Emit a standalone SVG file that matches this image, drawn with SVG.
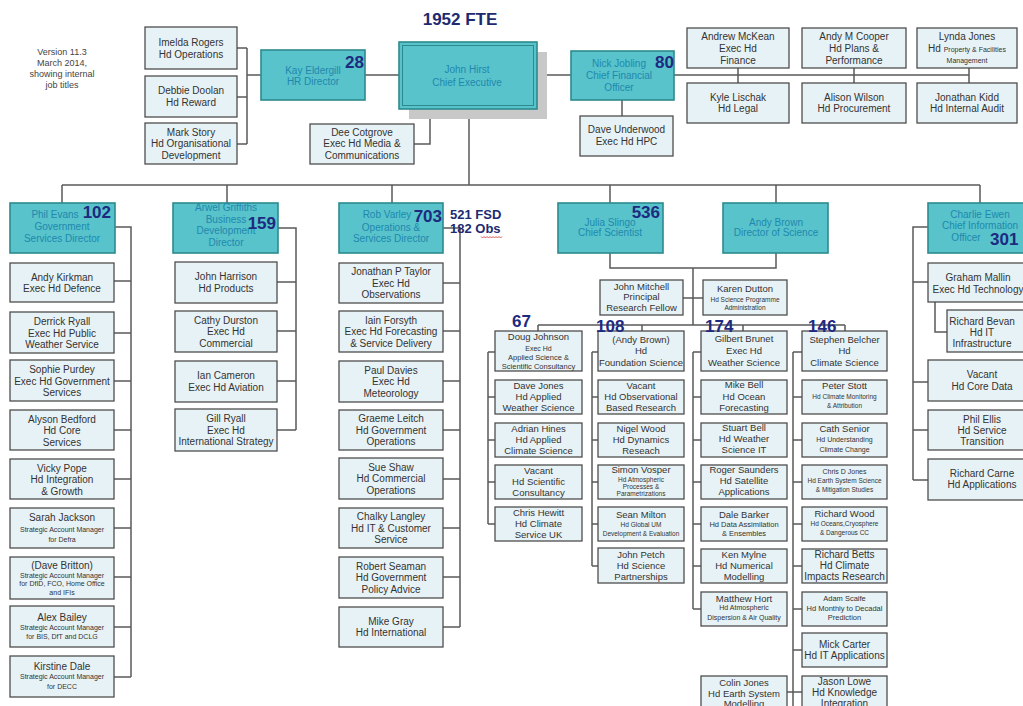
<svg xmlns="http://www.w3.org/2000/svg" width="1023" height="706" viewBox="0 0 1023 706">
  <style>
    text { font-family: "Liberation Sans", Arial, sans-serif; font-size: 10px; text-anchor: middle; fill: #333; }
    .lf { fill: #e7f2f6; stroke: #4e4e4e; stroke-width: 1.3; }
    .dr { fill: #58c3cb; stroke: #2c8a8e; stroke-width: 1.6; }
    .d { fill: #1f88ae; }
    .n { font-size: 9.5px; }
    .s { font-size: 7px; }
    .xs { font-size: 6.5px; }
    .num { font-weight: bold; font-size: 17px; fill: #1d2a80; text-anchor: end; }
    .st { text-anchor: start; }
    .note { font-size: 9px; fill: #444; }
    .cn { stroke: #5a5a5a; stroke-width: 1.5; fill: none; }
  </style>
  <rect width="1023" height="706" fill="#ffffff"/>

  <!-- header texts -->
  <g id="version-note">
    <text class="note" x="62" y="55">Version 11.3</text>
    <text class="note" x="62" y="66">March 2014,</text>
    <text class="note" x="62" y="77">showing internal</text>
    <text class="note" x="62" y="88">job titles</text>
  </g>
  <text x="460" y="25" style="font-weight:bold;font-size:17px;fill:#1d2a70">1952 FTE</text>

  <!-- connectors -->
  <g id="connectors" class="cn">
    <path d="M237,48 H247 M237,97 H247 M237,144 H247 M247,48 V144 M247,75 H261"/>
    <path d="M365,75 H399 M537,75 H571"/>
    <path d="M674,75 H969 M738,68 V83 M854,68 V83 M969,68 V83"/>
    <path d="M622,100 V116"/>
    <path d="M414,144 H430 V109"/>
    <path d="M469,109 V185 M62,185 H980"/>
    <path d="M62,185 V203 M227,185 V203 M392,185 V203 M610,185 V203 M776,185 V203 M980,185 V203"/>
    <!-- government services -->
    <path d="M115,227 H131 V677 M114,281 H131 M114,333 H131 M114,381 H131 M114,430 H131 M114,479 H131 M114,528 H131 M114,577 H131 M114,627 H131 M114,677 H131"/>
    <!-- business development -->
    <path d="M278,228 H296 V430 M277,282 H296 M277,331 H296 M277,381 H296 M277,430 H296"/>
    <!-- operations & services -->
    <path d="M443,228 H460 V627 M443,283 H460 M443,331 H460 M443,381 H460 M443,430 H460 M443,479 H460 M443,528 H460 M443,577 H460 M443,627 H460"/>
    <!-- science -->
    <path d="M610,253 V268 H693 M776,253 V268 H693 M693,268 V325 M683,298 H703"/>
    <path d="M538,325 H845 M538,325 V331 M642,325 V331 M743,325 V331 M845,325 V331"/>
    <path d="M488,352 V524 M488,352 H495 M488,397 H495 M488,440 H495 M488,482 H495 M488,524 H495"/>
    <path d="M592,352 V566 M592,352 H598 M592,397 H598 M592,440 H598 M592,482 H598 M592,524 H598 M592,566 H598"/>
    <path d="M693,352 V609 M693,352 H701 M693,397 H701 M693,440 H701 M693,482 H701 M693,524 H701 M693,566 H701 M693,609 H701"/>
    <path d="M793,352 V706 M793,352 H802 M793,397 H802 M793,440 H802 M793,482 H802 M793,524 H802 M793,566 H802 M793,609 H802 M793,650 H802 M793,692 H802 M787,692 H793"/>
    <!-- information -->
    <path d="M928,227 H913 V480 M913,282 H928 M913,382 H928 M913,430 H928 M913,480 H928 M935,302 V332 H947"/>
  </g>

  <!-- top level -->
  <g id="imelda-rogers"><rect class="lf" x="145" y="27" width="92" height="42"/><text x="191" y="46">Imelda Rogers</text><text x="191" y="57.5">Hd Operations</text></g>
  <g id="debbie-doolan"><rect class="lf" x="145" y="76" width="92" height="41"/><text x="191" y="94">Debbie Doolan</text><text x="191" y="105.5">Hd Reward</text></g>
  <g id="mark-story"><rect class="lf" x="145" y="123" width="92" height="41"/><text x="191" y="135.5">Mark Story</text><text x="191" y="147">Hd Organisational</text><text x="191" y="158.5">Development</text></g>
  <g id="kay-eldergill"><rect class="dr" x="261" y="50" width="104" height="50"/><text class="d" x="313" y="73.5">Kay Eldergill</text><text class="d" x="313" y="84.5">HR Director</text><text class="num" x="364" y="68">28</text></g>
  <g id="john-hirst">
    <rect x="409" y="52" width="138" height="67" fill="#c8c8c8"/>
    <rect class="dr" x="399" y="42" width="138" height="67" stroke-width="2"/>
    <rect x="402.5" y="45.5" width="131" height="60" fill="none" stroke="#2c8a8e" stroke-width="1"/>
    <text class="d" x="467" y="72.5">John Hirst</text><text class="d" x="467" y="85.5">Chief Executive</text>
  </g>
  <g id="dee-cotgrove"><rect class="lf" x="310" y="124" width="104" height="40"/><text x="362" y="135.5">Dee Cotgrove</text><text x="362" y="147">Exec Hd Media &amp;</text><text x="362" y="158.5">Communications</text></g>
  <g id="nick-jobling"><rect class="dr" x="571" y="51" width="103" height="49"/><text class="d" x="619" y="66.5">Nick Jobling</text><text class="d" x="619" y="78.5">Chief Financial</text><text class="d" x="619" y="90.5">Officer</text><text class="num" x="674" y="68">80</text></g>
  <g id="dave-underwood"><rect class="lf" x="580" y="116" width="93" height="40"/><text x="626.5" y="132.5">Dave Underwood</text><text x="626.5" y="144.5">Exec Hd HPC</text></g>
  <g id="andrew-mckean"><rect class="lf" x="687" y="28" width="102" height="40"/><text x="738" y="39.5">Andrew McKean</text><text x="738" y="51.5">Exec Hd</text><text x="738" y="63.5">Finance</text></g>
  <g id="kyle-lischak"><rect class="lf" x="687" y="83" width="102" height="40"/><text x="738" y="100.5">Kyle Lischak</text><text x="738" y="111.5">Hd Legal</text></g>
  <g id="andy-m-cooper"><rect class="lf" x="802" y="28" width="104" height="40"/><text x="854" y="39.5">Andy M Cooper</text><text x="854" y="51.5">Hd Plans &amp;</text><text x="854" y="63.5">Performance</text></g>
  <g id="alison-wilson"><rect class="lf" x="802" y="83" width="104" height="40"/><text x="854" y="100.5">Alison Wilson</text><text x="854" y="111.5">Hd Procurement</text></g>
  <g id="lynda-jones"><rect class="lf" x="917" y="28" width="100" height="40"/><text x="967" y="39.5">Lynda Jones</text><text x="967" y="51.5">Hd <tspan class="s">Property &amp; Facilities</tspan></text><text class="s" x="967" y="63">Management</text></g>
  <g id="jonathan-kidd"><rect class="lf" x="917" y="83" width="100" height="40"/><text x="967" y="100.5">Jonathan Kidd</text><text x="967" y="111.5">Hd Internal Audit</text></g>

  <!-- government services -->
  <g id="phil-evans"><rect class="dr" x="10" y="203" width="105" height="50"/><text class="d" x="55" y="218">Phil Evans</text><text class="d" x="62" y="230">Government</text><text class="d" x="62" y="241.5">Services Director</text><text class="num" x="111" y="218">102</text></g>
  <g id="andy-kirkman"><rect class="lf" x="10" y="263" width="104" height="39"/><text x="62" y="280.5">Andy Kirkman</text><text x="62" y="291.5">Exec Hd Defence</text></g>
  <g id="derrick-ryall"><rect class="lf" x="10" y="312" width="104" height="41"/><text x="62" y="325">Derrick Ryall</text><text x="62" y="336.5">Exec Hd Public</text><text x="62" y="348">Weather Service</text></g>
  <g id="sophie-purdey"><rect class="lf" x="10" y="360" width="104" height="41"/><text x="62" y="373">Sophie Purdey</text><text x="62" y="384.5">Exec Hd Government</text><text x="62" y="396">Services</text></g>
  <g id="alyson-bedford"><rect class="lf" x="10" y="410" width="104" height="40"/><text x="62" y="422.5">Alyson Bedford</text><text x="62" y="434">Hd Core</text><text x="62" y="445.5">Services</text></g>
  <g id="vicky-pope"><rect class="lf" x="10" y="459" width="104" height="40"/><text x="62" y="471.5">Vicky Pope</text><text x="62" y="483">Hd Integration</text><text x="62" y="494.5">&amp; Growth</text></g>
  <g id="sarah-jackson"><rect class="lf" x="10" y="508" width="104" height="40"/><text x="62" y="521">Sarah Jackson</text><text class="s" x="62" y="532">Strategic Account Manager</text><text class="s" x="62" y="541.5">for Defra</text></g>
  <g id="dave-britton"><rect class="lf" x="10" y="557" width="104" height="42"/><text x="62" y="568.5">(Dave Britton)</text><text class="s" x="62" y="578">Strategic Account Manager</text><text class="s" x="62" y="586">for DfID, FCO, Home Office</text><text class="s" x="62" y="594.5">and IFIs</text></g>
  <g id="alex-bailey"><rect class="lf" x="10" y="606" width="104" height="41"/><text x="62" y="620.5">Alex Bailey</text><text class="s" x="62" y="630">Strategic Account Manager</text><text class="s" x="62" y="639">for BIS, DfT and DCLG</text></g>
  <g id="kirstine-dale"><rect class="lf" x="10" y="656" width="104" height="41"/><text x="62" y="669.5">Kirstine Dale</text><text class="s" x="62" y="679">Strategic Account Manager</text><text class="s" x="62" y="689">for DECC</text></g>

  <!-- business development -->
  <g id="arwel-griffiths"><rect class="dr" x="173" y="203" width="105" height="50"/><text class="d" x="226" y="211">Arwel Griffiths</text><text class="d" x="226" y="222.5">Business</text><text class="d" x="226" y="234">Development</text><text class="d" x="226" y="245.5">Director</text><text class="num" x="276" y="229">159</text></g>
  <g id="john-harrison"><rect class="lf" x="175" y="262" width="102" height="41"/><text x="226" y="280">John Harrison</text><text x="226" y="291.5">Hd Products</text></g>
  <g id="cathy-durston"><rect class="lf" x="175" y="311" width="102" height="41"/><text x="226" y="323.5">Cathy Durston</text><text x="226" y="335">Exec Hd</text><text x="226" y="346.5">Commercial</text></g>
  <g id="ian-cameron"><rect class="lf" x="175" y="361" width="102" height="41"/><text x="226" y="379">Ian Cameron</text><text x="226" y="390.5">Exec Hd Aviation</text></g>
  <g id="gill-ryall"><rect class="lf" x="175" y="409" width="102" height="42"/><text x="226" y="422">Gill Ryall</text><text x="226" y="433.5">Exec Hd</text><text x="226" y="445">International Strategy</text></g>

  <!-- operations & services -->
  <g id="rob-varley"><rect class="dr" x="339" y="203" width="104" height="50"/><text class="d" x="387" y="218">Rob Varley</text><text class="d" x="391" y="230.5">Operations &amp;</text><text class="d" x="391" y="242">Services Director</text><text class="num" x="442" y="222">703</text></g>
  <g id="fsd-obs">
    <text class="st" x="450" y="219" style="font-size:13px;font-weight:bold;fill:#1d2a70">521 FSD</text>
    <text class="st" x="450" y="233" style="font-size:13px;font-weight:bold;fill:#1d2a70">182 Obs</text>
    <path d="M481,236.5 l1.5,1.5 l1.5,-1.5 l1.5,1.5 l1.5,-1.5 l1.5,1.5 l1.5,-1.5 l1.5,1.5 l1.5,-1.5 l1.5,1.5 l1.5,-1.5 l1.5,1.5 l1.5,-1.5 l1.5,1.5 l1.5,-1.5" fill="none" stroke="#d03030" stroke-width="0.8"/>
  </g>
  <g id="jonathan-p-taylor"><rect class="lf" x="339" y="263" width="104" height="40"/><text x="391" y="275">Jonathan P Taylor</text><text x="391" y="286.5">Exec Hd</text><text x="391" y="298">Observations</text></g>
  <g id="iain-forsyth"><rect class="lf" x="339" y="311" width="104" height="41"/><text x="391" y="323.5">Iain Forsyth</text><text x="391" y="335">Exec Hd Forecasting</text><text x="391" y="346.5">&amp; Service Delivery</text></g>
  <g id="paul-davies"><rect class="lf" x="339" y="361" width="104" height="41"/><text x="391" y="373.5">Paul Davies</text><text x="391" y="385">Exec Hd</text><text x="391" y="396.5">Meteorology</text></g>
  <g id="graeme-leitch"><rect class="lf" x="339" y="410" width="104" height="40"/><text x="391" y="422">Graeme Leitch</text><text x="391" y="433.5">Hd Government</text><text x="391" y="445">Operations</text></g>
  <g id="sue-shaw"><rect class="lf" x="339" y="458" width="104" height="41"/><text x="391" y="470.5">Sue Shaw</text><text x="391" y="482">Hd Commercial</text><text x="391" y="493.5">Operations</text></g>
  <g id="chalky-langley"><rect class="lf" x="339" y="508" width="104" height="40"/><text x="391" y="520">Chalky Langley</text><text x="391" y="531.5">Hd IT &amp; Customer</text><text x="391" y="543">Service</text></g>
  <g id="robert-seaman"><rect class="lf" x="339" y="557" width="104" height="41"/><text x="391" y="569.5">Robert Seaman</text><text x="391" y="581">Hd Government</text><text x="391" y="592.5">Policy Advice</text></g>
  <g id="mike-gray"><rect class="lf" x="339" y="607" width="104" height="40"/><text x="391" y="624.5">Mike Gray</text><text x="391" y="636">Hd International</text></g>

  <!-- science -->
  <g id="julia-slingo"><rect class="dr" x="558" y="203" width="105" height="50"/><text class="d" x="610" y="225.5">Julia Slingo</text><text class="d" x="610" y="236">Chief Scientist</text><text class="num" x="660" y="218">536</text></g>
  <g id="andy-brown"><rect class="dr" x="723" y="203" width="105" height="50"/><text class="d" x="776" y="225.5">Andy Brown</text><text class="d" x="776" y="236">Director of Science</text></g>
  <g id="john-mitchell"><rect class="lf" x="600" y="280" width="83" height="35"/><text class="n" x="641.5" y="289.5">John Mitchell</text><text class="n" x="641.5" y="300">Principal</text><text class="n" x="641.5" y="310.5">Research Fellow</text></g>
  <g id="karen-dutton"><rect class="lf" x="703" y="280" width="84" height="35"/><text class="n" x="745" y="292">Karen Dutton</text><text class="xs" x="745" y="301.5">Hd Science Programme</text><text class="xs" x="745" y="309.5">Administration</text></g>

  <g id="doug-johnson"><rect class="lf" x="495" y="331" width="87" height="40"/><text class="n" x="538.5" y="339.5">Doug Johnson</text><text class="s" x="538.5" y="350.5">Exec Hd</text><text class="s" x="538.5" y="359.5" style="font-size:7.5px">Applied Science &amp;</text><text class="s" x="538.5" y="368.5" style="font-size:7.5px">Scientific Consultancy</text></g>
  <g id="dave-jones"><rect class="lf" x="495" y="380" width="87" height="34"/><text class="n" x="538.5" y="389">Dave Jones</text><text class="n" x="538.5" y="400">Hd Applied</text><text class="n" x="538.5" y="410.5">Weather Science</text></g>
  <g id="adrian-hines"><rect class="lf" x="495" y="423" width="87" height="34"/><text class="n" x="538.5" y="432">Adrian Hines</text><text class="n" x="538.5" y="443">Hd Applied</text><text class="n" x="538.5" y="453.5">Climate Science</text></g>
  <g id="vacant-scientific-consultancy"><rect class="lf" x="495" y="465" width="87" height="34"/><text class="n" x="538.5" y="474">Vacant</text><text class="n" x="538.5" y="485">Hd Scientific</text><text class="n" x="538.5" y="495.5">Consultancy</text></g>
  <g id="chris-hewitt"><rect class="lf" x="495" y="507" width="87" height="34"/><text class="n" x="538.5" y="516">Chris Hewitt</text><text class="n" x="538.5" y="527">Hd Climate</text><text class="n" x="538.5" y="537.5">Service UK</text></g>

  <g id="andy-brown-foundation"><rect class="lf" x="598" y="331" width="86" height="40"/><text class="n" x="641" y="342.5">(Andy Brown)</text><text class="n" x="641" y="354">Hd</text><text class="n" x="641" y="365.5">Foundation Science</text></g>
  <g id="vacant-observational"><rect class="lf" x="598" y="380" width="86" height="34"/><text class="n" x="641" y="389">Vacant</text><text class="n" x="641" y="400">Hd Observational</text><text class="n" x="641" y="410.5">Based Research</text></g>
  <g id="nigel-wood"><rect class="lf" x="598" y="423" width="86" height="34"/><text class="n" x="641" y="432">Nigel Wood</text><text class="n" x="641" y="443">Hd Dynamics</text><text class="n" x="641" y="453.5">Reseach</text></g>
  <g id="simon-vosper"><rect class="lf" x="598" y="465" width="86" height="34"/><text class="n" x="641" y="472.5">Simon Vosper</text><text class="xs" x="641" y="481.5">Hd Atmospheric</text><text class="xs" x="641" y="488.5">Processes &amp;</text><text class="xs" x="641" y="496">Parametrizations</text></g>
  <g id="sean-milton"><rect class="lf" x="598" y="507" width="86" height="34"/><text class="n" x="641" y="518">Sean Milton</text><text class="xs" x="641" y="527">Hd Global UM</text><text class="xs" x="641" y="535.5">Development &amp; Evaluation</text></g>
  <g id="john-petch"><rect class="lf" x="598" y="548" width="86" height="35"/><text class="n" x="641" y="558">John Petch</text><text class="n" x="641" y="569">Hd Science</text><text class="n" x="641" y="579.5">Partnerships</text></g>

  <g id="gilbert-brunet"><rect class="lf" x="701" y="331" width="86" height="40"/><text class="n" x="744" y="342">Gilbert Brunet</text><text class="n" x="744" y="354">Exec Hd</text><text class="n" x="744" y="365.5">Weather Science</text></g>
  <g id="mike-bell"><rect class="lf" x="701" y="380" width="86" height="34"/><text class="n" x="744" y="387.5">Mike Bell</text><text class="n" x="744" y="399.5">Hd Ocean</text><text class="n" x="744" y="411">Forecasting</text></g>
  <g id="stuart-bell"><rect class="lf" x="701" y="423" width="86" height="34"/><text class="n" x="744" y="431">Stuart Bell</text><text class="n" x="744" y="442">Hd Weather</text><text class="n" x="744" y="452.5">Science IT</text></g>
  <g id="roger-saunders"><rect class="lf" x="701" y="465" width="86" height="34"/><text class="n" x="744" y="473">Roger Saunders</text><text class="n" x="744" y="484">Hd Satellite</text><text class="n" x="744" y="494.5">Applications</text></g>
  <g id="dale-barker"><rect class="lf" x="701" y="507" width="86" height="34"/><text class="n" x="744" y="517.5">Dale Barker</text><text class="s" x="744" y="527" style="font-size:7.5px">Hd Data Assimilation</text><text class="s" x="744" y="535.5" style="font-size:7.5px">&amp; Ensembles</text></g>
  <g id="ken-mylne"><rect class="lf" x="701" y="549" width="86" height="34"/><text class="n" x="744" y="558">Ken Mylne</text><text class="n" x="744" y="569">Hd Numerical</text><text class="n" x="744" y="579.5">Modelling</text></g>
  <g id="matthew-hort"><rect class="lf" x="701" y="592" width="86" height="34"/><text class="n" x="744" y="601.5">Matthew Hort</text><text class="s" x="744" y="610">Hd Atmospheric</text><text class="s" x="744" y="619.5">Dispersion &amp; Air Quality</text></g>
  <g id="colin-jones"><rect class="lf" x="701" y="676" width="86" height="40"/><text class="n" x="744" y="685.5">Colin Jones</text><text class="n" x="744" y="696.5">Hd Earth System</text><text class="n" x="744" y="707">Modelling</text></g>

  <g id="stephen-belcher"><rect class="lf" x="802" y="331" width="85" height="40"/><text class="n" x="844.5" y="342.5">Stephen Belcher</text><text class="n" x="844.5" y="354">Hd</text><text class="n" x="844.5" y="365.5">Climate Science</text></g>
  <g id="peter-stott"><rect class="lf" x="802" y="380" width="85" height="34"/><text class="n" x="844.5" y="389">Peter Stott</text><text class="xs" x="844.5" y="398.5">Hd Climate Monitoring</text><text class="xs" x="844.5" y="408">&amp; Attribution</text></g>
  <g id="cath-senior"><rect class="lf" x="802" y="423" width="85" height="34"/><text class="n" x="844.5" y="432">Cath Senior</text><text class="s" x="844.5" y="442">Hd Understanding</text><text class="s" x="844.5" y="452">Climate Change</text></g>
  <g id="chris-d-jones"><rect class="lf" x="802" y="465" width="85" height="34"/><text class="s" x="844.5" y="474">Chris D Jones</text><text class="xs" x="844.5" y="483">Hd Earth System Science</text><text class="xs" x="844.5" y="492">&amp; Mitigation Studies</text></g>
  <g id="richard-wood"><rect class="lf" x="802" y="507" width="85" height="34"/><text class="n" x="844.5" y="516.5">Richard Wood</text><text class="xs" x="844.5" y="526">Hd Oceans,Cryosphere</text><text class="xs" x="844.5" y="535">&amp; Dangerous CC</text></g>
  <g id="richard-betts"><rect class="lf" x="802" y="549" width="85" height="34"/><text x="844.5" y="557.5">Richard Betts</text><text x="844.5" y="568.5">Hd Climate</text><text x="844.5" y="579.5">Impacts Research</text></g>
  <g id="adam-scaife"><rect class="lf" x="802" y="592" width="85" height="34"/><text class="s" x="844.5" y="600.5" style="font-size:7.5px">Adam Scaife</text><text class="s" x="844.5" y="610.5" style="font-size:7.5px">Hd Monthly to Decadal</text><text class="s" x="844.5" y="620" style="font-size:7.5px">Prediction</text></g>
  <g id="mick-carter"><rect class="lf" x="802" y="633" width="85" height="34"/><text x="844.5" y="647.5">Mick Carter</text><text x="844.5" y="659">Hd IT Applications</text></g>
  <g id="jason-lowe"><rect class="lf" x="802" y="676" width="85" height="40"/><text x="844.5" y="685">Jason Lowe</text><text x="844.5" y="696">Hd Knowledge</text><text x="844.5" y="707">Integration</text></g>

  <!-- information -->
  <g id="charlie-ewen"><rect class="dr" x="928" y="203" width="100" height="50"/><text class="d" x="980" y="217.5">Charlie Ewen</text><text class="d" x="980" y="229">Chief Information</text><text class="d" x="966" y="241">Officer</text><text class="num st" x="990" y="245">301</text></g>
  <g id="graham-mallin"><rect class="lf" x="928" y="263" width="100" height="39"/><text x="978" y="280.5">Graham Mallin</text><text x="978" y="292.5">Exec Hd Technology</text></g>
  <g id="richard-bevan"><rect class="lf" x="947" y="310" width="80" height="42"/><text x="982" y="325">Richard Bevan</text><text x="982" y="336">Hd IT</text><text x="982" y="347">Infrastructure</text></g>
  <g id="vacant-core-data"><rect class="lf" x="928" y="360" width="100" height="41"/><text x="982" y="377.5">Vacant</text><text x="982" y="390">Hd Core Data</text></g>
  <g id="phil-ellis"><rect class="lf" x="928" y="410" width="100" height="40"/><text x="982" y="422.5">Phil Ellis</text><text x="982" y="433.5">Hd Service</text><text x="982" y="444.5">Transition</text></g>
  <g id="richard-carne"><rect class="lf" x="928" y="459" width="100" height="41"/><text x="982" y="476.5">Richard Carne</text><text x="982" y="488">Hd Applications</text></g>

  <!-- headcount figures for the science groups -->
  <g id="science-headcounts">
    <text class="num st" x="512" y="327">67</text>
    <text class="num st" x="596" y="332">108</text>
    <text class="num st" x="705" y="332">174</text>
    <text class="num st" x="808" y="332">146</text>
  </g>
</svg>
